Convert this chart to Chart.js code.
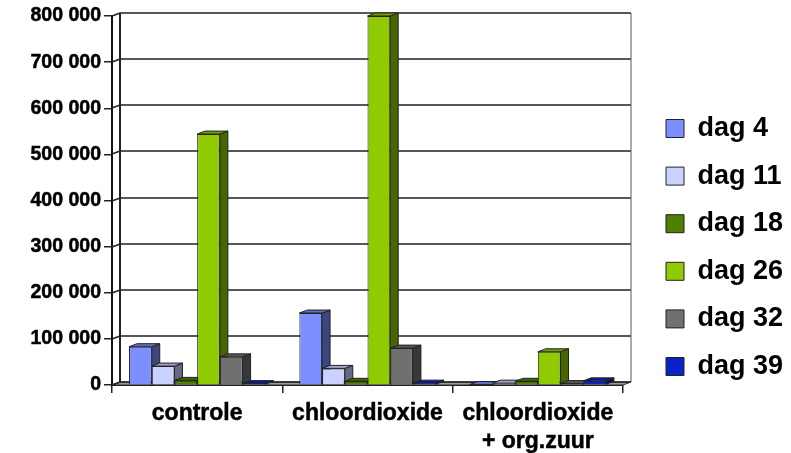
<!DOCTYPE html>
<html>
<head>
<meta charset="utf-8">
<style>
  html, body { margin: 0; padding: 0; background: #fff; }
  canvas { display: block; }
</style>
<script src="https://cdn.jsdelivr.net/npm/chart.js@4"></script>
</head>
<body>
<canvas id="chart" width="791" height="453"></canvas>
<script>
const categories = ["controle", "chloordioxide", ["chloordioxide", "+ org.zuur"]];
const seriesLabels = ["dag 4", "dag 11", "dag 18", "dag 26", "dag 32", "dag 39"];
const dag4 = [83000, 156000, 1000];
const dag11 = [41000, 36000, 4000];
const dag18 = [10000, 8000, 8000];
const dag26 = [544000, 800000, 72000];
const dag32 = [61000, 80000, 3000];
const dag39 = [3000, 4000, 9000];
const seriesValues = [dag4, dag11, dag18, dag26, dag32, dag39];
const frontColors = ["#7b8fff", "#ccd2ff", "#4f8000", "#8fcb00", "#707070", "#0a22c8"];
const sideColors = ["#3c4680", "#666980", "#284000", "#486600", "#383838", "#051164"];
const topColors = ["#5f6fc8", "#a0a5c8", "#3e6400", "#70a000", "#585858", "#081a9c"];

const DEPTH_X = 8;
const DEPTH_Y = 3;
const FONT = "'Liberation Sans', Arial, sans-serif";

function poly(ctx, points, fill, stroke) {
    ctx.beginPath();
    points.forEach((p, i) => i ? ctx.lineTo(p[0], p[1]) : ctx.moveTo(p[0], p[1]));
    ctx.closePath();
    ctx.fillStyle = fill;
    ctx.fill();
    ctx.strokeStyle = stroke;
    ctx.lineWidth = 1;
    ctx.stroke();
}

const box3d = {
    id: "box3d",
    beforeInit(chart) {
        // keep the plot narrow, the legend sits well to the right of it
        const legend = chart.legend;
        const fit = legend.fit;
        legend.fit = function () {
            fit.call(legend);
            legend.width = 168;
        };
    },
    afterLayout(chart) {
        const legend = chart.legend;
        legend.left = 645.4;
        legend.right = 791;
        legend.top += 13;
        legend.bottom += 13;
    },
    beforeDatasetsDraw(chart) {
        const { ctx, chartArea: area, scales } = chart;
        ctx.save();

        // floor, side wall and back wall
        poly(ctx, [[area.left, area.bottom], [area.right, area.bottom], [area.right + DEPTH_X, area.bottom - DEPTH_Y], [area.left + DEPTH_X, area.bottom - DEPTH_Y]], "#9a9a9a", "#333");
        ctx.strokeStyle = "#222";
        ctx.lineWidth = 1.5;
        scales.y.ticks.forEach(tick => {
            const y = Math.round(scales.y.getPixelForValue(tick.value));
            ctx.beginPath();
            ctx.moveTo(area.left, y);
            ctx.lineTo(area.left + DEPTH_X, y - DEPTH_Y);
            ctx.lineTo(area.right + DEPTH_X, y - DEPTH_Y);
            ctx.stroke();
        });
        ctx.lineWidth = 2;
        ctx.beginPath();
        ctx.moveTo(area.left + DEPTH_X, area.top - DEPTH_Y);
        ctx.lineTo(area.left + DEPTH_X, area.bottom - DEPTH_Y);
        ctx.stroke();
        ctx.lineWidth = 1;
        ctx.strokeStyle = "#555";
        ctx.beginPath();
        ctx.moveTo(area.right + DEPTH_X, area.top - DEPTH_Y);
        ctx.lineTo(area.right + DEPTH_X, area.bottom - DEPTH_Y);
        ctx.stroke();

        // bars go left to right so each front covers the side of the one before
        for (let c = 0; c < categories.length; c++) {
            seriesLabels.forEach((label, s) => {
                const bar = chart.getDatasetMeta(s).data[c];
                const { x, y, base, width } = bar.getProps(["x", "y", "base", "width"], true);
                const l = x - width / 2;
                const r = x + width / 2;
                poly(ctx, [[r, y], [r + DEPTH_X, y - DEPTH_Y], [r + DEPTH_X, base - DEPTH_Y], [r, base]], sideColors[s], "#222");
                poly(ctx, [[l, y], [l + DEPTH_X, y - DEPTH_Y], [r + DEPTH_X, y - DEPTH_Y], [r, y]], topColors[s], "#222");
                bar.draw(ctx);
            });
        }
        ctx.restore();
        return false;
    }
};

new Chart(document.getElementById("chart"), {
    type: "bar",
    data: {
        labels: categories,
        datasets: seriesLabels.map((label, i) => ({
            label: label,
            data: seriesValues[i],
            backgroundColor: frontColors[i],
            borderColor: "#222",
            borderWidth: 1
        }))
    },
    options: {
        responsive: false,
        animation: false,
        layout: { padding: { top: 16, left: 0, right: 0, bottom: 0 } },
        categoryPercentage: 0.8,
        barPercentage: 1,
        plugins: {
            tooltip: { enabled: false },
            legend: {
                position: "right",
                labels: {
                    boxWidth: 18,
                    boxHeight: 18,
                    padding: 20.6,
                    color: "#000",
                    font: { family: FONT, size: 27, weight: "bold" }
                }
            }
        },
        scales: {
            x: {
                grid: { drawOnChartArea: false, tickLength: 8, color: "#222", lineWidth: 1.5 },
                border: { color: "#111", width: 2 },
                ticks: {
                    color: "#000",
                    maxRotation: 0,
                    autoSkip: false,
                    padding: 6,
                    textStrokeColor: "#000",
                    textStrokeWidth: 0.5,
                    font: { family: FONT, size: 23, weight: "bold", lineHeight: 1.25 }
                },
                afterFit(scale) { scale.height = 68; }
            },
            y: {
                min: 0,
                max: 800000,
                grid: { drawOnChartArea: false, tickLength: 8, color: "#222", lineWidth: 1.5 },
                border: { color: "#111", width: 2 },
                ticks: {
                    stepSize: 100000,
                    color: "#000",
                    padding: 3,
                    textStrokeColor: "#000",
                    textStrokeWidth: 0.5,
                    font: { family: FONT, size: 19.5, weight: "bold" },
                    callback: v => v === 0 ? "0" : (v / 1000) + " 000"
                },
                afterFit(scale) { scale.width = 112; }
            }
        }
    },
    plugins: [box3d]
});
</script>
</body>
</html>
